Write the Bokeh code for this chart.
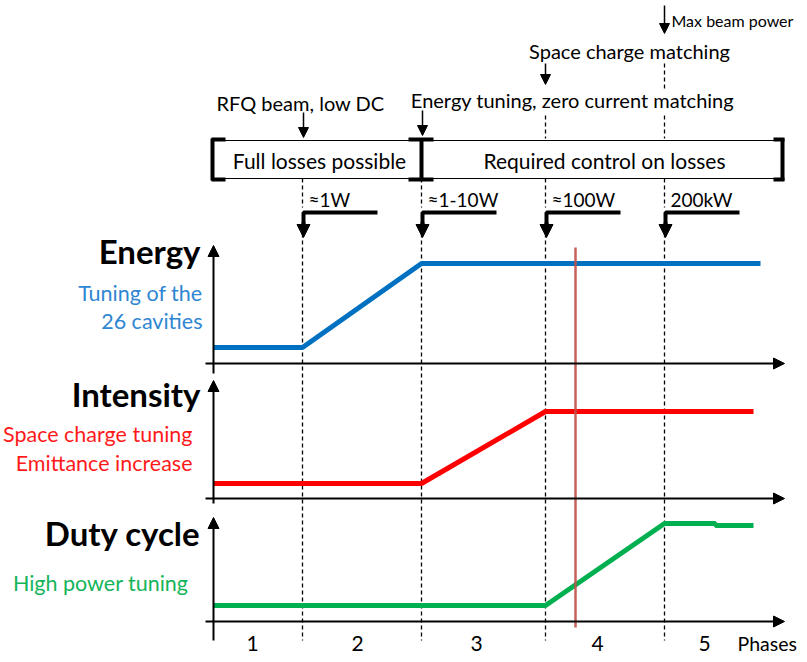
from bokeh.plotting import figure
from bokeh.models import Range1d, Arrow, NormalHead
from bokeh.core.properties import value
from bokeh.embed import file_html
from bokeh.resources import INLINE

# ---------------- data (schematic, arbitrary time / level units) ----------------
phase_edges = [0, 89, 208, 332, 451]          # start of phases 1..5
phase_labels = ["1", "2", "3", "4", "5"]
phase_label_x = [39, 144, 263, 384, 491]

energy_x = [0, 89, 208, 547]
energy_y = [16, 16, 100, 100]
intensity_x = [0, 208, 332, 540]
intensity_y = [15, 15, 87, 87]
duty_x = [0, 332, 451, 502, 502, 540]
duty_y = [16, 16, 98, 98, 96, 96]

power_labels = ["≈1W", "≈1-10W", "≈100W", "200kW"]
milestones = ["RFQ beam, low DC", "Energy tuning, zero current matching",
              "Space charge matching", "Max beam power"]
panel_names = ["Energy", "Intensity", "Duty cycle"]
panel_notes = [["Tuning of the", "26 cavities"],
               ["Space charge tuning", "Emittance increase"],
               ["High power tuning"]]
loss_boxes = ["Full losses possible", "Required control on losses"]
marker_x = 362  # red vertical marker

# ---------------- layout ----------------
panel_base = [291, 156, 33]
panel_top = [118, 118, 104]
panel_below = [10, 5, 19]
panel_colors = ["#0070C0", "#FF0000", "#00B050"]
note_colors = ["#2F86D2", "#FF1A1A", "#14B45A"]
FONT = value("Lato")

p = figure(width=799, height=654, output_backend="svg", toolbar_location=None,
           x_range=Range1d(-213, 586), y_range=Range1d(0, 654),
           x_axis_location=None, y_axis_location=None, min_border=0)
p.outline_line_color = None
p.grid.visible = False
p.background_fill_color = "white"

BL = 571  # end of horizontal axes
# ---- axes for each panel ----
for base, top, below in zip(panel_base, panel_top, panel_below):
    p.segment(x0=[0], y0=[base - below], x1=[0], y1=[base], line_color="black", line_width=2)
    p.segment(x0=[-8], y0=[base], x1=[0], y1=[base], line_color="black", line_width=2)
    p.add_layout(Arrow(x_start=0, y_start=base, x_end=0, y_end=base + top,
                       line_width=2, line_color="black",
                       end=NormalHead(size=11, fill_color="black", line_color="black")))
    p.add_layout(Arrow(x_start=0, y_start=base, x_end=BL, y_end=base,
                       line_width=2, line_color="black",
                       end=NormalHead(size=11, fill_color="black", line_color="black")))

# ---- dashed phase boundaries ----
bx = phase_edges[1:]
p.segment(x0=bx, y0=[421] * 4, x1=bx, y1=[14] * 4, line_color="black", line_width=1.3, line_dash="4 3")
p.segment(x0=bx, y0=[476] * 4, x1=bx, y1=[447] * 4, line_color="black", line_width=1.3, line_dash="4 3")
p.segment(x0=[phase_edges[3], phase_edges[4], phase_edges[4]], y0=[539, 539, 591],
          x1=[phase_edges[3], phase_edges[4], phase_edges[4]], y1=[516, 516, 566],
          line_color="black", line_width=1.3, line_dash="4 3")

# ---- series ----
p.line(energy_x, [panel_base[0] + v for v in energy_y], line_color=panel_colors[0], line_width=5)
p.line(intensity_x, [panel_base[1] + v for v in intensity_y], line_color=panel_colors[1], line_width=5)
p.line(duty_x, [panel_base[2] + v for v in duty_y], line_color=panel_colors[2], line_width=5)

# ---- red marker ----
p.segment(x0=[marker_x], y0=[407], x1=[marker_x], y1=[27], line_color="#C0504D", line_width=2.5, line_alpha=0.9)

# ---- power step arrows ----
for xb in bx:
    p.line([xb + 75, xb + 1, xb + 1], [442, 442, 428], line_color="black", line_width=4)
    p.add_layout(Arrow(x_start=xb + 1, y_start=432, x_end=xb + 1, y_end=417, line_width=4,
                       line_color="black",
                       end=NormalHead(size=13, fill_color="black", line_color="black")))
p.text(x=[xb + 6 for xb in bx], y=[455] * 4, text=power_labels, text_font=FONT,
       text_font_size="19px", text_align="left", text_baseline="middle", text_color="black")

# ---- milestone arrows and labels ----
ms_x = [90, 209, 332, 451]
ms_y0 = [542, 544, 591, 649]
ms_y1 = [517, 519, 570, 621]
for x, y0, y1 in zip(ms_x, ms_y0, ms_y1):
    p.add_layout(Arrow(x_start=x, y_start=y0, x_end=x, y_end=y1, line_width=1.5, line_color="black",
                       end=NormalHead(size=10, fill_color="black", line_color="black")))
p.text(x=[87, 359, 416], y=[552, 555, 604], text=milestones[:3], text_font=FONT,
       text_font_size="20px", text_align="center", text_baseline="middle", text_color="black")
p.text(x=[458], y=[634], text=[milestones[3]], text_font=FONT,
       text_font_size="16px", text_align="left", text_baseline="middle", text_color="black")

# ---- loss boxes ----
p.segment(x0=[0, 0], y0=[514, 476], x1=[569, 569], y1=[514, 476], line_color="black", line_width=1.2)
for xc, xl, xr in [(-1, -2, 12), (208, 195, 220), (569, 560, 571)]:
    p.segment(x0=[xc], y0=[474], x1=[xc], y1=[516], line_color="black", line_width=4)
    p.segment(x0=[xl, xl], y0=[515, 475], x1=[xr, xr], y1=[515, 475], line_color="black", line_width=4)
p.text(x=[106, 391], y=[494, 494], text=loss_boxes, text_font=FONT,
       text_font_size="21px", text_align="center", text_baseline="middle", text_color="black")

# ---- panel titles and notes ----
title_y = [404, 261, 122]
p.text(x=[-13] * 3, y=title_y, text=panel_names, text_font=FONT, text_font_style="bold",
       text_font_size="33px", text_align="right", text_baseline="middle", text_color="black")
p.text(x=[-11, -11], y=[362, 334], text=panel_notes[0], text_font=FONT, text_font_size="21.5px",
       text_align="right", text_baseline="middle", text_color=note_colors[0])
p.text(x=[-21, -21], y=[221, 192], text=panel_notes[1], text_font=FONT, text_font_size="21.5px",
       text_align="right", text_baseline="middle", text_color=note_colors[1])
p.text(x=[-25], y=[72], text=panel_notes[2], text_font=FONT, text_font_size="21.5px",
       text_align="right", text_baseline="middle", text_color=note_colors[2])

# ---- phase numbers ----
p.text(x=phase_label_x, y=[11] * 5, text=phase_labels, text_font=FONT, text_font_size="21px",
       text_align="center", text_baseline="middle", text_color="black")
p.text(x=[524], y=[11], text=["Phases"], text_font=FONT, text_font_size="19.5px",
       text_align="left", text_baseline="middle", text_color="black")

open("out.html", "w").write(file_html(p, INLINE))
